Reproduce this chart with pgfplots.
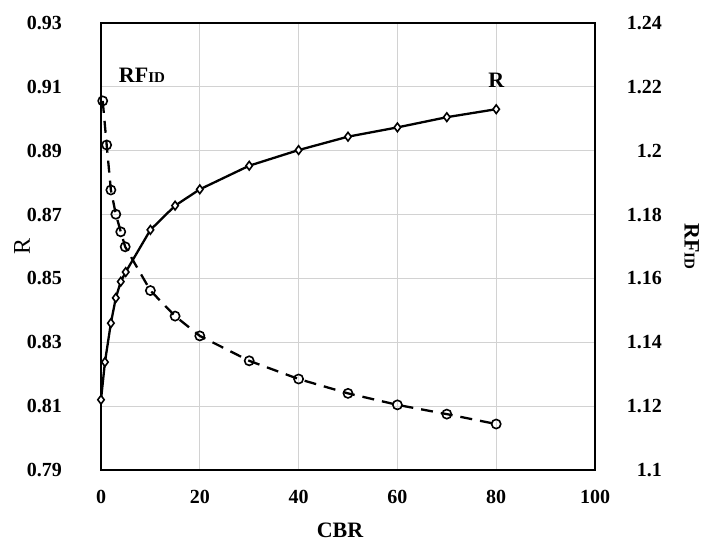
\documentclass[border=0pt]{standalone}
\usepackage{pgfplots}
\pgfplotsset{compat=1.18}
\usepackage{fontspec}
\setmainfont{Liberation Serif}
\begin{document}
\begin{tikzpicture}
\path[use as bounding box] (-101pt,-79pt) rectangle (607pt,470pt);
\pgfplotsset{
  common/.style={scale only axis, width=494pt, height=447pt,
    xmin=0, xmax=100, at={(0pt,0pt)}, anchor=south west,
    major tick length=0pt,
    tick label style={font=\fontsize{20}{24}\selectfont\bfseries, inner sep=0pt},
    /pgf/number format/assume math mode=true,
    axis line style={line width=2.3pt},
  }
}
\begin{axis}[common,
  ymin=0.79, ymax=0.93,
  ytick={0.79,0.81,0.83,0.85,0.87,0.89,0.91,0.93},
  xtick={0,20,40,60,80,100},
  grid=major, grid style={draw=gray!35, line width=1pt},
  yticklabel style={anchor=east, xshift=-39pt, /pgf/number format/.cd, fixed, fixed zerofill, precision=2},
  xticklabel style={anchor=north, yshift=-20pt},
  xlabel={\textbf{CBR}},
  xlabel style={font=\fontsize{22}{26}\selectfont, at={(axis description cs:0.484,-0.134)}, anchor=center},
  ylabel={R},
  ylabel style={font=\fontsize{24}{28}\selectfont, at={(axis description cs:-0.16,0.5)}, anchor=center},
]
\addplot[black, line width=2.3pt, mark=diamond*, mark size=4.3pt,
  mark options={fill=white, line width=1.6pt, solid}]
coordinates {
(0,0.812) (0.8,0.8238) (2,0.836) (3,0.8439) (4,0.849) (5,0.852)
(10,0.8652) (15,0.8728) (20,0.8779) (30,0.8853) (40,0.8902)
(50,0.8944) (60,0.8973) (70,0.9005) (80,0.903)
};
\node[anchor=west, inner sep=0pt, font=\bfseries] at (axis cs:3.6,0.9137)
  {{\fontsize{22}{26}\selectfont RF}{\fontsize{15}{18}\selectfont ID}};
\node[anchor=center, inner sep=0pt, font=\fontsize{22}{26}\selectfont\bfseries] at (axis cs:80,0.9121) {R};
\end{axis}
\begin{axis}[common,
  ymin=1.1, ymax=1.24,
  ytick={1.1,1.12,1.14,1.16,1.18,1.2,1.22,1.24},
  axis y line*=right, axis x line=none,
  yticklabel style={anchor=east, xshift=67pt, /pgf/number format/.cd, fixed, precision=2},
  ylabel={\bfseries{\fontsize{22}{26}\selectfont RF}{\fontsize{15}{18}\selectfont ID}},
  ylabel style={at={(axis description cs:1.196,0.5)}, anchor=center, rotate=-180},
]
\addplot[black, line width=2.3pt, dash pattern=on 12pt off 8pt, mark=o, mark size=4.6pt,
  mark options={fill=white, line width=1.6pt, solid}]
coordinates {
(0.35,1.2156) (1.15,1.2018) (2,1.1877) (3,1.1801) (4,1.1746) (4.9,1.1699)
(10,1.1562) (15,1.1482) (20,1.142) (30,1.1342) (40,1.1285)
(50,1.124) (60,1.1204) (70,1.1175) (80,1.1144)
};
\end{axis}
\end{tikzpicture}
\end{document}
